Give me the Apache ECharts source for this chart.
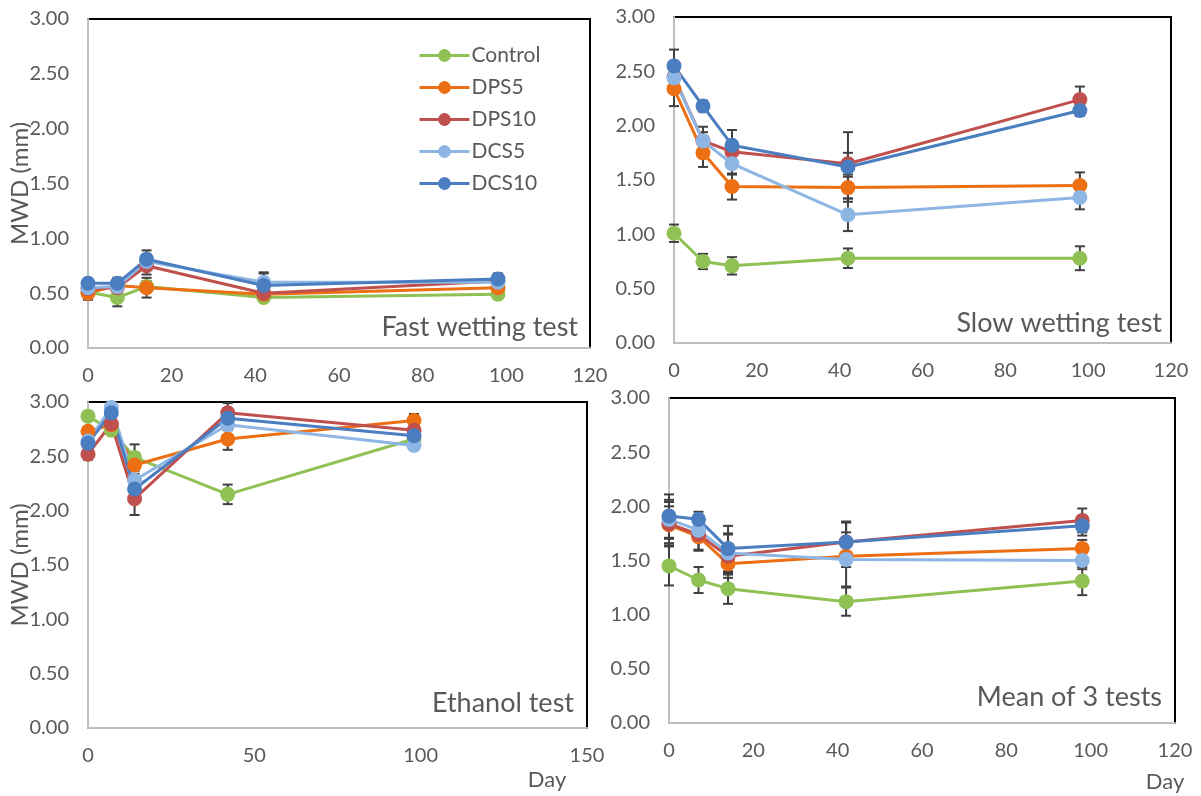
<!DOCTYPE html>
<html>
<head>
<meta charset="utf-8">
<script src="https://cdn.jsdelivr.net/npm/echarts@6/dist/echarts.min.js"></script>
<style>
html,body{margin:0;padding:0;background:#fff;}
#chart{width:1201px;height:796px;}
</style>
</head>
<body>
<div id="chart"></div>
<script>
// ---- Data ----
const days = [0, 7, 14, 42, 98];
const seriesNames = ['Control', 'DPS5', 'DPS10', 'DCS5', 'DCS10'];
const seriesColors = ['#8FC155', '#EC7013', '#C0504D', '#8EB6E5', '#4A7EC0'];
const yTicks = ['0.00', '0.50', '1.00', '1.50', '2.00', '2.50', '3.00'];
const panelTitles = ['Fast wetting test', 'Slow wetting test', 'Ethanol test', 'Mean of 3 tests'];

// rows: Control, DPS5, DPS10, DCS5, DCS10 ; columns follow days
const fastMWD = [
  [0.51, 0.46, 0.56, 0.46, 0.49],
  [0.50, 0.57, 0.55, 0.49, 0.55],
  [0.54, 0.55, 0.75, 0.50, 0.61],
  [0.55, 0.56, 0.79, 0.60, 0.60],
  [0.59, 0.59, 0.81, 0.57, 0.63]
];
const fastErr = [
  [0.04, 0.08, 0.05, 0.03, 0.03],
  [0.06, 0.04, 0.09, 0.04, 0.04],
  [0.04, 0.05, 0.08, 0.05, 0.04],
  [0.04, 0.05, 0.06, 0.08, 0.04],
  [0.04, 0.05, 0.08, 0.12, 0.05]
];
const slowMWD = [
  [1.01, 0.75, 0.71, 0.78, 0.78],
  [2.34, 1.75, 1.44, 1.43, 1.45],
  [2.45, 1.86, 1.76, 1.65, 2.24],
  [2.44, 1.86, 1.65, 1.18, 1.34],
  [2.55, 2.18, 1.82, 1.62, 2.14]
];
const slowErr = [
  [0.08, 0.07, 0.08, 0.09, 0.11],
  [0.16, 0.13, 0.12, 0.10, 0.12],
  [0.12, 0.13, 0.08, 0.10, 0.12],
  [0.10, 0.08, 0.10, 0.15, 0.11],
  [0.15, 0.05, 0.14, 0.32, 0.05]
];
const ethanolMWD = [
  [2.87, 2.74, 2.49, 2.15, 2.66],
  [2.73, 2.79, 2.42, 2.66, 2.83],
  [2.52, 2.80, 2.11, 2.90, 2.74],
  [2.64, 2.95, 2.28, 2.79, 2.60],
  [2.62, 2.90, 2.20, 2.85, 2.69]
];
const ethanolErr = [
  [0.03, 0.03, 0.12, 0.09, 0.04],
  [0.04, 0.04, 0.05, 0.10, 0.06],
  [0.05, 0.04, 0.15, 0.09, 0.05],
  [0.04, 0.04, 0.06, 0.05, 0.04],
  [0.04, 0.04, 0.07, 0.06, 0.04]
];
const meanMWD = [
  [1.45, 1.32, 1.24, 1.12, 1.31],
  [1.83, 1.72, 1.47, 1.54, 1.61],
  [1.84, 1.74, 1.54, 1.67, 1.87],
  [1.88, 1.78, 1.57, 1.51, 1.50],
  [1.91, 1.88, 1.61, 1.67, 1.82]
];
const meanErr = [
  [0.18, 0.12, 0.14, 0.13, 0.13],
  [0.17, 0.13, 0.10, 0.10, 0.08],
  [0.20, 0.14, 0.20, 0.18, 0.11],
  [0.18, 0.10, 0.18, 0.25, 0.08],
  [0.20, 0.07, 0.21, 0.19, 0.09]
];
const xMax = [120, 120, 150, 120];
const xInterval = [20, 20, 50, 20];

// ---- Layout ----
const FONT = 'Lato, "Open Sans", sans-serif';
const grids = [
  {left: 88, top: 19, width: 502, height: 329},
  {left: 674, top: 17, width: 497, height: 326},
  {left: 88, top: 402, width: 499, height: 326},
  {left: 669, top: 398, width: 506, height: 325}
];
const panels = [
  [fastMWD, fastErr], [slowMWD, slowErr], [ethanolMWD, ethanolErr], [meanMWD, meanErr]
];

const option = {
  backgroundColor: '#fff',
  animation: false,
  textStyle: {fontFamily: FONT},
  grid: grids.map(g => Object.assign({show: true, borderColor: '#000', borderWidth: 2, containLabel: false}, g)),
  xAxis: grids.map((g, i) => ({
    gridIndex: i, type: 'value', min: 0, max: xMax[i], interval: xInterval[i],
    axisLine: {show: true, onZero: false, lineStyle: {color: '#BFBFBF', width: 2}},
    axisTick: {show: false}, splitLine: {show: false},
    axisLabel: {color: '#595959', fontSize: 20, fontFamily: FONT, margin: 18, showMaxLabel: true}
  })),
  yAxis: grids.map((g, i) => ({
    gridIndex: i, type: 'value', min: 0, max: 3, interval: 0.5,
    name: (i % 2 === 0) ? 'MWD (mm)' : '', nameLocation: 'middle', nameGap: 56,
    nameMoveOverlap: false,
    nameTextStyle: {color: '#595959', fontSize: 24, fontFamily: FONT},
    axisLine: {show: true, lineStyle: {color: '#BFBFBF', width: 2}},
    axisTick: {show: false}, splitLine: {show: false},
    axisLabel: {color: '#595959', fontSize: 20, fontFamily: FONT, margin: 19,
      formatter: v => yTicks[Math.round(v / 0.5)]}
  })),
  legend: {
    data: seriesNames, orient: 'vertical', left: 413, top: 40,
    itemWidth: 50, itemHeight: 16, itemGap: 11,
    lineStyle: {width: 3},
    textStyle: {color: '#595959', fontSize: 21, fontFamily: FONT, padding: [0, 0, 0, -3]},
    selectedMode: false
  },
  graphic: [
    {type: 'text', x: 578, y: 327, style: {text: panelTitles[0], textAlign: 'right', textVerticalAlign: 'middle', font: '27px ' + FONT, fill: '#595959'}},
    {type: 'text', x: 1162, y: 323, style: {text: panelTitles[1], textAlign: 'right', textVerticalAlign: 'middle', font: '27px ' + FONT, fill: '#595959'}},
    {type: 'text', x: 574, y: 703, style: {text: panelTitles[2], textAlign: 'right', textVerticalAlign: 'middle', font: '27px ' + FONT, fill: '#595959'}},
    {type: 'text', x: 1162, y: 697, style: {text: panelTitles[3], textAlign: 'right', textVerticalAlign: 'middle', font: '27px ' + FONT, fill: '#595959'}},
    {type: 'text', x: 547, y: 780, style: {text: 'Day', textAlign: 'center', textVerticalAlign: 'middle', font: '22px ' + FONT, fill: '#595959'}},
    {type: 'text', x: 1165, y: 782, style: {text: 'Day', textAlign: 'center', textVerticalAlign: 'middle', font: '22px ' + FONT, fill: '#595959'}}
  ],
  series: []
};

panels.forEach(([vals, errs], p) => {
  seriesNames.forEach((name, s) => {
    option.series.push({
      type: 'custom', name: name + ' error', xAxisIndex: p, yAxisIndex: p, z: 3,
      silent: true,
      data: days.map((d, k) => [d, vals[s][k] - errs[s][k], vals[s][k] + errs[s][k]]),
      renderItem: (params, api) => {
        const lo = api.coord([api.value(0), api.value(1)]);
        const hi = api.coord([api.value(0), api.value(2)]);
        const w = 5;
        const st = {stroke: '#404040', lineWidth: 2};
        return {type: 'group', children: [
          {type: 'line', shape: {x1: lo[0], y1: lo[1], x2: hi[0], y2: hi[1]}, style: st},
          {type: 'line', shape: {x1: lo[0] - w, y1: lo[1], x2: lo[0] + w, y2: lo[1]}, style: st},
          {type: 'line', shape: {x1: hi[0] - w, y1: hi[1], x2: hi[0] + w, y2: hi[1]}, style: st}
        ]};
      }
    });
  });
  seriesNames.forEach((name, s) => {
    option.series.push({
      type: 'line', name: name, xAxisIndex: p, yAxisIndex: p, z: 4,
      data: days.map((d, k) => [d, vals[s][k]]),
      symbol: 'circle', symbolSize: 15,
      color: seriesColors[s],
      itemStyle: {color: seriesColors[s]},
      lineStyle: {color: seriesColors[s], width: 3}
    });
  });
});

const chart = echarts.init(document.getElementById('chart'), null, {renderer: 'canvas'});
chart.setOption(option);
</script>
</body>
</html>
